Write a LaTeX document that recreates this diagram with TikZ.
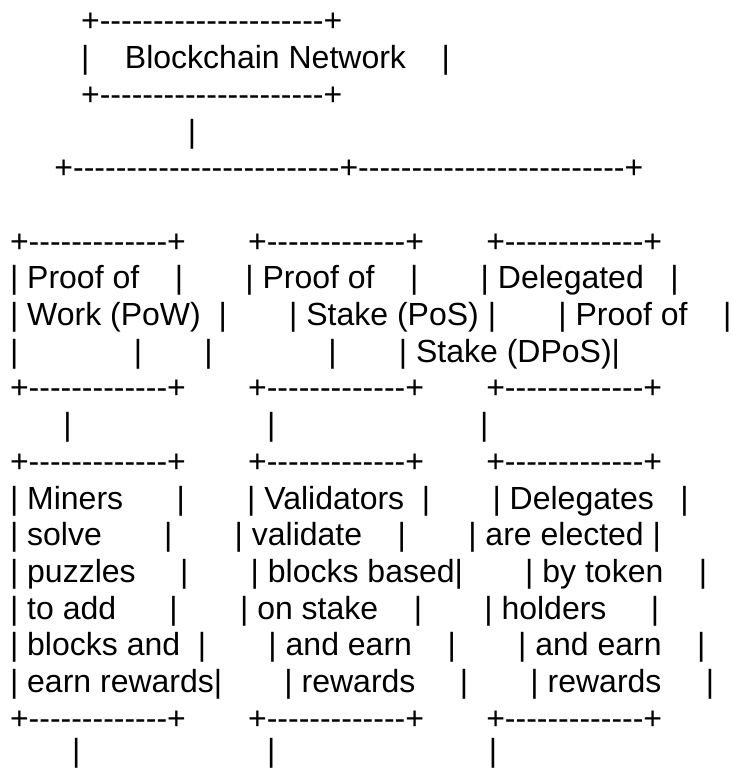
\documentclass[tikz,border=0pt]{standalone}
\usepackage{fontspec}
\setmainfont{Liberation Sans}
\usepackage{tikz}

\newcommand{\gap}[1]{\hspace*{#1\fontdimen2\font}}
\newcommand{\dashes}[1]{\foreach \i in {1,...,#1}{-\kern0pt}}
\newcommand{\boxrow}{+\dashes{13}+\gap{7}+\dashes{13}+\gap{7}+\dashes{13}+}

\begin{document}
\begin{tikzpicture}[x=1pt,y=-1pt,
    ascii/.style={anchor=base west,inner sep=0pt,outer sep=0pt,font=\fontsize{32}{36.7}\selectfont}]
      \useasboundingbox (0,0) rectangle (733,769);
      \node[ascii] (l1) at (10,31.9) {\gap{8}+\dashes{21}+}; % network box
      \node[ascii] (l2) at (10,68.6) {\gap{8}|\gap{4}Blockchain Network\gap{4}|};
      \node[ascii] (l3) at (10,105.3) {\gap{8}+\dashes{21}+};
      \node[ascii] (l4) at (10,142) {\gap{20}|};
      \node[ascii] (l5) at (10,178.7) {\gap{5}+\dashes{25}+\dashes{25}+}; % split
      \node[ascii] (l7) at (10,252.1) {\boxrow}; % consensus boxes
      \node[ascii] (l8) at (10,288.8) {|\gap{1}Proof of\gap{4}|\gap{7}|\gap{1}Proof of\gap{4}|\gap{7}|\gap{1}Delegated\gap{3}|};
      \node[ascii] (l9) at (10,325.5) {|\gap{1}Work (PoW)\gap{2}|\gap{7}|\gap{1}Stake (PoS)\gap{1}|\gap{7}|\gap{1}Proof of\gap{4}|};
      \node[ascii] (l10) at (10,362.2) {|\gap{13}|\gap{7}|\gap{13}|\gap{7}|\gap{1}Stake (DPoS)|};
      \node[ascii] (l11) at (10,398.9) {\boxrow};
      \node[ascii] (l12) at (10,435.6) {\gap{6}|\gap{22}|\gap{23}|}; % links down
      \node[ascii] (l13) at (10,472.3) {\boxrow}; % description boxes
      \node[ascii] (l14) at (10,509) {|\gap{1}Miners\gap{6}|\gap{7}|\gap{1}Validators\gap{2}|\gap{7}|\gap{1}Delegates\gap{3}|};
      \node[ascii] (l15) at (10,545.7) {|\gap{1}solve\gap{7}|\gap{7}|\gap{1}validate\gap{4}|\gap{7}|\gap{1}are elected\gap{1}|};
      \node[ascii] (l16) at (10,582.4) {|\gap{1}puzzles\gap{5}|\gap{7}|\gap{1}blocks based|\gap{7}|\gap{1}by token\gap{4}|};
      \node[ascii] (l17) at (10,619.1) {|\gap{1}to add\gap{6}|\gap{7}|\gap{1}on stake\gap{4}|\gap{7}|\gap{1}holders\gap{5}|};
      \node[ascii] (l18) at (10,655.8) {|\gap{1}blocks and\gap{2}|\gap{7}|\gap{1}and earn\gap{4}|\gap{7}|\gap{1}and earn\gap{4}|};
      \node[ascii] (l19) at (10,692.5) {|\gap{1}earn rewards|\gap{7}|\gap{1}rewards\gap{5}|\gap{7}|\gap{1}rewards\gap{5}|};
      \node[ascii] (l20) at (10,729.2) {\boxrow};
      \node[ascii] (l21) at (10,761.5) {\gap{7}|\gap{21}|\gap{24}|}; % links below
    \end{tikzpicture}
\end{document}
